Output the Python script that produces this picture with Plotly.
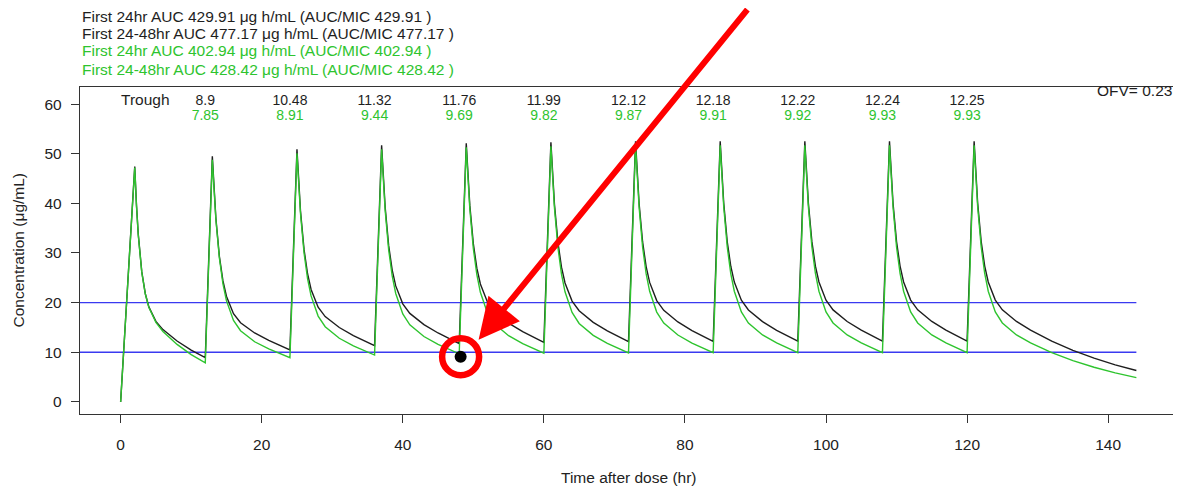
import plotly.graph_objects as go

# ---------------- data ----------------
time_hr = [
    0, 2, 2.25, 2.5, 3, 3.5, 4, 5, 6, 8, 10, 12,
    13, 13.25, 13.5, 14, 14.5, 15, 16, 17, 19, 21, 24,
    25, 25.25, 25.5, 26, 26.5, 27, 28, 29, 31, 33, 36,
    37, 37.25, 37.5, 38, 38.5, 39, 40, 41, 43, 45, 48,
    49, 49.25, 49.5, 50, 50.5, 51, 52, 53, 55, 57, 60,
    61, 61.25, 61.5, 62, 62.5, 63, 64, 65, 67, 69, 72,
    73, 73.25, 73.5, 74, 74.5, 75, 76, 77, 79, 81, 84,
    85, 85.25, 85.5, 86, 86.5, 87, 88, 89, 91, 93, 96,
    97, 97.25, 97.5, 98, 98.5, 99, 100, 101, 103, 105, 108,
    109, 109.25, 109.5, 110, 110.5, 111, 112, 113, 115, 117, 120,
    121, 121.25, 121.5, 122, 122.5, 123, 124, 125, 127, 129, 132, 135, 138, 141, 144,
]

conc_black = [
    0, 47.4, 39.60, 33.79, 26.19, 21.79, 19.14, 16.22, 14.56, 12.27, 10.44, 8.90,
    49.5, 42.54, 37.05, 29.31, 24.43, 21.29, 17.78, 15.95, 13.88, 12.37, 10.48,
    50.9, 43.95, 38.47, 30.72, 25.82, 22.65, 19.08, 17.19, 14.98, 13.36, 11.32,
    51.7, 44.74, 39.25, 31.48, 26.55, 23.37, 19.76, 17.83, 15.56, 13.88, 11.76,
    52.1, 45.13, 39.64, 31.88, 26.94, 23.75, 20.12, 18.17, 15.87, 14.15, 11.99,
    52.3, 45.34, 39.85, 32.08, 27.15, 23.95, 20.31, 18.36, 16.03, 14.30, 12.12,
    52.5, 45.51, 40.02, 32.22, 27.27, 24.07, 20.41, 18.45, 16.11, 14.37, 12.18,
    52.5, 45.53, 40.04, 32.26, 27.33, 24.13, 20.48, 18.51, 16.17, 14.42, 12.22,
    52.5, 45.53, 40.05, 32.28, 27.35, 24.15, 20.50, 18.53, 16.19, 14.44, 12.24,
    52.5, 45.54, 40.06, 32.29, 27.36, 24.16, 20.52, 18.55, 16.21, 14.46, 12.25,
    52.5, 45.54, 40.06, 32.29, 27.36, 24.16, 20.52, 18.55, 16.21, 14.46, 12.25, 10.39, 8.81, 7.47, 6.33,
]

conc_green = [
    0, 47.2, 39.40, 33.62, 26.09, 21.73, 19.06, 16.03, 14.19, 11.58, 9.53, 7.85,
    48.8, 42.15, 36.79, 28.98, 23.84, 20.40, 16.41, 14.34, 12.11, 10.66, 8.91,
    50.1, 43.39, 37.96, 30.05, 24.84, 21.35, 17.29, 15.14, 12.82, 11.29, 9.44,
    50.9, 44.11, 38.64, 30.64, 25.37, 21.84, 17.71, 15.53, 13.17, 11.59, 9.69,
    51.3, 44.48, 38.97, 30.93, 25.63, 22.07, 17.92, 15.73, 13.34, 11.74, 9.82,
    51.5, 44.65, 39.13, 31.07, 25.74, 22.18, 18.01, 15.81, 13.41, 11.80, 9.87,
    51.7, 44.83, 39.29, 31.19, 25.84, 22.27, 18.09, 15.87, 13.47, 11.85, 9.91,
    51.7, 44.83, 39.30, 31.20, 25.86, 22.29, 18.11, 15.89, 13.48, 11.87, 9.92,
    51.7, 44.83, 39.30, 31.21, 25.87, 22.30, 18.12, 15.90, 13.49, 11.87, 9.93,
    51.7, 44.83, 39.30, 31.21, 25.87, 22.30, 18.12, 15.90, 13.49, 11.87, 9.93,
    51.7, 44.83, 39.30, 31.21, 25.87, 22.30, 18.12, 15.90, 13.49, 11.87, 9.93, 8.32, 6.97, 5.84, 4.89,
]

trough_times = [12, 24, 36, 48, 60, 72, 84, 96, 108, 120]
trough_black = ["8.9", "10.48", "11.32", "11.76", "11.99", "12.12", "12.18", "12.22", "12.24", "12.25"]
trough_green = ["7.85", "8.91", "9.44", "9.69", "9.82", "9.87", "9.91", "9.92", "9.93", "9.93"]

mic_levels = [10, 20]

obs_time = [48.2]
obs_conc = [9.1]

auc_lines = [
    "First 24hr AUC 429.91 μg h/mL (AUC/MIC 429.91 )",
    "First 24-48hr AUC 477.17 μg h/mL (AUC/MIC 477.17 )",
    "First 24hr AUC 402.94 μg h/mL (AUC/MIC 402.94 )",
    "First 24-48hr AUC 428.42 μg h/mL (AUC/MIC 428.42 )",
]
ofv_text = "OFV= 0.23"

# ---------------- style ----------------
BLACK = "#1e1e1e"
GREEN = "#2ec42e"
BLUE = "#3a3af0"
RED = "#ff0000"
FONT = "Liberation Sans, Arial, Helvetica, sans-serif"
FS = 15.5
FS_TROUGH = 14
X_RANGE = [-5.76, 149.76]
Y_RANGE = [-2.44, 63.44]

fig = go.Figure()

# MIC reference lines
for lvl in mic_levels:
    fig.add_trace(go.Scatter(x=[X_RANGE[0], time_hr[-1]], y=[lvl, lvl], mode="lines",
                             line=dict(color=BLUE, width=1.3), hoverinfo="skip", showlegend=False))

fig.add_trace(go.Scatter(x=time_hr, y=conc_black, mode="lines",
                         line=dict(color=BLACK, width=1.4), showlegend=False))
fig.add_trace(go.Scatter(x=time_hr, y=conc_green, mode="lines",
                         line=dict(color=GREEN, width=1.4), showlegend=False))

# trough labels
fig.add_trace(go.Scatter(x=trough_times, y=[60.5] * len(trough_times), mode="text",
                         text=trough_black, textfont=dict(family=FONT, size=FS_TROUGH, color=BLACK),
                         showlegend=False, hoverinfo="skip"))
fig.add_trace(go.Scatter(x=trough_times, y=[57.55] * len(trough_times), mode="text",
                         text=trough_green, textfont=dict(family=FONT, size=FS_TROUGH, color=GREEN),
                         showlegend=False, hoverinfo="skip"))
fig.add_trace(go.Scatter(x=[3.5], y=[60.6], mode="text", text=["Trough"],
                         textfont=dict(family=FONT, size=FS, color=BLACK),
                         showlegend=False, hoverinfo="skip"))

# observed point with red highlight
fig.add_trace(go.Scatter(x=obs_time, y=obs_conc, mode="markers",
                         marker=dict(color="black", size=12), showlegend=False))
fig.add_trace(go.Scatter(x=obs_time, y=obs_conc, mode="markers",
                         marker=dict(symbol="circle-open", color=RED, size=37,
                                     line=dict(color=RED, width=6.5)), showlegend=False))

annotations = []
auc_colors = [BLACK, BLACK, GREEN, GREEN]
auc_y = [1.2171, 1.1621, 1.1101, 1.0550]
for txt, col, yy in zip(auc_lines, auc_colors, auc_y):
    annotations.append(dict(text=txt, xref="paper", yref="paper", x=0, y=yy, xanchor="left",
                            yanchor="middle", xshift=0, showarrow=False,
                            font=dict(family=FONT, size=FS, color=col)))
annotations.append(dict(text=ofv_text, xref="paper", yref="paper", x=1, y=0.9878, xanchor="right",
                        yanchor="middle", xshift=-3, showarrow=False,
                        font=dict(family=FONT, size=FS, color=BLACK)))
# red arrow
annotations.append(dict(x=50.75, y=12.5, xref="x", yref="y", ax=270, ay=-350, axref="pixel",
                        ayref="pixel", text="", showarrow=True, arrowhead=2, arrowsize=1.35,
                        arrowwidth=6, arrowcolor=RED))
# axis titles placed explicitly
annotations.append(dict(text="Time after dose (hr)", xref="paper", yref="paper", x=0.5, y=-0.193,
                        xanchor="center", yanchor="middle", showarrow=False,
                        font=dict(family=FONT, size=FS, color="#222")))
annotations.append(dict(text="Concentration (μg/mL)", xref="paper", yref="paper", x=-0.0565,
                        y=0.5, xanchor="center", yanchor="middle", textangle=-90, showarrow=False,
                        font=dict(family=FONT, size=FS, color="#222")))

# page body has an 8px margin, so the figure is sized to the visible area
fig.update_layout(
    width=1173, height=478,
    margin=dict(l=72, r=4, t=79, b=72),
    paper_bgcolor="white", plot_bgcolor="white",
    font=dict(family=FONT, size=FS, color="#222"),
    annotations=annotations,
    xaxis=dict(range=X_RANGE, tickvals=[0, 20, 40, 60, 80, 100, 120, 140], ticks="outside",
               ticklen=8, tickwidth=1.2, tickcolor="#333", showgrid=False, zeroline=False,
               showline=True, linecolor="#333", linewidth=1.4, mirror=True,
               ticklabelstandoff=8, automargin=False,
               tickfont=dict(size=FS, color="#222")),
    yaxis=dict(range=Y_RANGE, tickvals=[0, 10, 20, 30, 40, 50, 60], ticks="outside",
               ticklen=8, tickwidth=1.2, tickcolor="#333", showgrid=False, zeroline=False,
               showline=True, linecolor="#333", linewidth=1.4, mirror=True,
               ticklabelstandoff=6, automargin=False,
               tickfont=dict(size=FS, color="#222")),
)

fig.write_html("out.html")
